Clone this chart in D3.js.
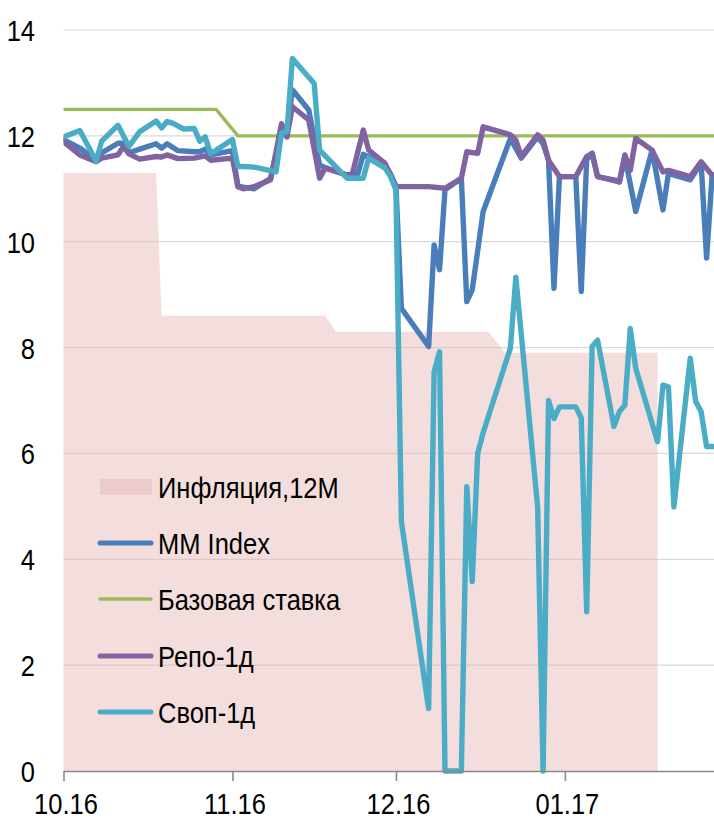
<!DOCTYPE html>
<html><head><meta charset="utf-8">
<script src="https://cdn.jsdelivr.net/npm/d3@7"></script>
<style>
body{margin:0;background:#fff;}
svg{display:block;font-family:"Liberation Sans Narrow","Arial Narrow","Liberation Sans",Arial,sans-serif;}
</style></head><body>
<svg id="chart" width="714" height="821"></svg>
<script>
// ---- data ----
const xTickDates = ["2016-10-01","2016-11-01","2016-12-01","2017-01-01"];
const xTickLabels = ["10.16","11.16","12.16","01.17"];
const yTicks = [0,2,4,6,8,10,12,14];

const inflationDates = ["2016-10-01","2016-10-18","2016-10-19","2016-11-18","2016-11-20","2016-12-18","2016-12-21","2017-01-18"];
const inflationValues = [11.3,11.3,8.6,8.6,8.3,8.3,7.9,7.9];

const keyRate = [["2016-10-01",12.5],["2016-10-29",12.5],["2016-11-02",12.0],["2017-01-29",12.0]];

const mmIndex = [["2016-10-01",11.93],["2016-10-04",11.77],["2016-10-07",11.54],["2016-10-08",11.68],["2016-10-11",11.86],["2016-10-12",11.86],["2016-10-13",11.68],["2016-10-15",11.75],["2016-10-18",11.85],["2016-10-19",11.77],["2016-10-20",11.85],["2016-10-22",11.72],["2016-10-25",11.70],["2016-10-26",11.70],["2016-10-27",11.75],["2016-10-28",11.64],["2016-11-01",11.72],["2016-11-02",11.05],["2016-11-03",11.03],["2016-11-05",11.00],["2016-11-08",11.20],["2016-11-10",12.10],["2016-11-11",12.06],["2016-11-12",12.87],["2016-11-15",12.49],["2016-11-17",11.45],["2016-11-18",11.40],["2016-11-22",11.26],["2016-11-24",11.28],["2016-11-25",11.65],["2016-11-26",11.60],["2016-11-29",11.45],["2016-11-30",11.28],["2016-12-01",11.05],["2016-12-02",8.74],["2016-12-07",8.02],["2016-12-08",9.94],["2016-12-09",9.47],["2016-12-10",10.98],["2016-12-13",11.20],["2016-12-14",8.87],["2016-12-15",9.09],["2016-12-17",10.57],["2016-12-22",11.95],["2016-12-24",11.58],["2016-12-27",11.98],["2016-12-28",11.85],["2016-12-29",11.54],["2016-12-30",9.12],["2016-12-31",11.23],["2017-01-03",11.23],["2017-01-04",9.06],["2017-01-05",11.55],["2017-01-06",11.67],["2017-01-07",11.23],["2017-01-11",11.13],["2017-01-12",11.61],["2017-01-14",10.57],["2017-01-17",11.73],["2017-01-19",10.60],["2017-01-20",11.29],["2017-01-24",11.17],["2017-01-26",11.48],["2017-01-27",9.69],["2017-01-28",11.23],["2017-01-29",11.23]];

const repo1d = [["2016-10-01",11.89],["2016-10-04",11.64],["2016-10-07",11.51],["2016-10-08",11.58],["2016-10-11",11.64],["2016-10-12",11.80],["2016-10-13",11.66],["2016-10-15",11.56],["2016-10-18",11.61],["2016-10-19",11.60],["2016-10-20",11.64],["2016-10-22",11.57],["2016-10-25",11.58],["2016-10-27",11.62],["2016-10-28",11.54],["2016-11-01",11.58],["2016-11-02",11.04],["2016-11-03",11.00],["2016-11-05",11.04],["2016-11-08",11.17],["2016-11-10",12.23],["2016-11-11",11.98],["2016-11-12",12.55],["2016-11-15",12.30],["2016-11-17",11.20],["2016-11-18",11.39],["2016-11-22",11.26],["2016-11-23",11.28],["2016-11-25",12.11],["2016-11-26",11.73],["2016-11-29",11.48],["2016-12-01",11.04],["2016-12-02",11.04],["2016-12-07",11.04],["2016-12-10",11.01],["2016-12-13",11.20],["2016-12-14",11.70],["2016-12-16",11.67],["2016-12-17",12.17],["2016-12-22",12.02],["2016-12-23",11.92],["2016-12-24",11.61],["2016-12-27",12.02],["2016-12-28",11.92],["2016-12-29",11.54],["2016-12-31",11.23],["2017-01-03",11.23],["2017-01-05",11.61],["2017-01-06",11.67],["2017-01-07",11.23],["2017-01-10",11.17],["2017-01-11",11.13],["2017-01-12",11.64],["2017-01-13",11.35],["2017-01-14",11.95],["2017-01-17",11.73],["2017-01-19",11.32],["2017-01-20",11.35],["2017-01-24",11.23],["2017-01-26",11.51],["2017-01-28",11.26],["2017-01-29",11.26]];

const swap1d = [["2016-10-01",11.98],["2016-10-04",12.10],["2016-10-07",11.52],["2016-10-08",11.90],["2016-10-11",12.20],["2016-10-13",11.80],["2016-10-15",12.08],["2016-10-18",12.28],["2016-10-19",12.15],["2016-10-20",12.27],["2016-10-21",12.24],["2016-10-23",12.13],["2016-10-25",12.14],["2016-10-26",11.90],["2016-10-27",11.98],["2016-10-28",11.66],["2016-11-01",11.93],["2016-11-02",11.42],["2016-11-03",11.42],["2016-11-05",11.41],["2016-11-09",11.32],["2016-11-10",12.05],["2016-11-11",12.08],["2016-11-12",13.46],["2016-11-16",12.99],["2016-11-17",11.73],["2016-11-22",11.20],["2016-11-25",11.20],["2016-11-26",11.58],["2016-11-29",11.39],["2016-11-30",11.23],["2016-12-01",10.98],["2016-12-02",4.71],["2016-12-07",1.18],["2016-12-08",7.54],["2016-12-09",7.92],["2016-12-10",0],["2016-12-13",0],["2016-12-14",5.37],["2016-12-15",3.58],["2016-12-16",6.00],["2016-12-17",6.39],["2016-12-22",7.99],["2016-12-23",9.33],["2016-12-27",4.99],["2016-12-28",0],["2016-12-29",7.00],["2016-12-30",6.66],["2016-12-31",6.88],["2017-01-03",6.88],["2017-01-04",6.67],["2017-01-05",3.01],["2017-01-06",8.02],["2017-01-07",8.14],["2017-01-10",6.51],["2017-01-11",6.79],["2017-01-12",6.91],["2017-01-13",8.36],["2017-01-14",7.61],["2017-01-18",6.22],["2017-01-19",7.29],["2017-01-20",7.26],["2017-01-21",4.99],["2017-01-24",7.80],["2017-01-25",6.98],["2017-01-26",6.79],["2017-01-27",6.13],["2017-01-29",6.13]];

const legendLabels = ["Инфляция,12М","MM Index","Базовая ставка","Репо-1д","Своп-1д"];
const seriesColors = {infl:"rgb(228,182,180)", mm:"#4a7ebb", key:"#9bbb59", repo:"#8064a2", swap:"#4bacc6"};

// ---- chart ----
const SX = 0.85; // horizontal condensing to mimic a narrow typeface
const parse = d3.utcParse("%Y-%m-%d");
const svg = d3.select("#chart");
const W = 714, H = 821;
const x = d3.scaleUtc()
  .domain([parse("2016-10-01"), new Date(Date.UTC(2017,0,28,8,40))])
  .range([63.5, 714]);
const y = d3.scaleLinear().domain([0,14]).range([771,30]);

// gridlines
svg.append("g").selectAll("line").data(yTicks.filter(v=>v>0)).join("line")
  .attr("x1",63.5).attr("x2",W).attr("y1",d=>y(d)).attr("y2",d=>y(d))
  .attr("stroke","#d9d9d9").attr("stroke-width",1.2);

// inflation area
const inflData = inflationDates.map((d,i)=>[parse(d),inflationValues[i]]);
svg.append("path").datum(inflData)
  .attr("d", d3.area().x(d=>x(d[0])).y0(y(0)).y1(d=>y(d[1])))
  .attr("fill",seriesColors.infl).attr("fill-opacity",0.45);

// clip
svg.append("clipPath").attr("id","clip").append("rect")
  .attr("x",63.5).attr("y",0).attr("width",W-63.5).attr("height",H);

const line = d3.line().x(d=>x(parse(d[0]))).y(d=>y(d[1]));
const g = svg.append("g").attr("clip-path","url(#clip)");
[[keyRate,seriesColors.key,3.4],[mmIndex,seriesColors.mm,5.4],[repo1d,seriesColors.repo,5.4],[swap1d,seriesColors.swap,5.4]]
 .forEach(([data,col,w])=>{
   g.append("path").datum(data).attr("d",line)
    .attr("fill","none").attr("stroke",col).attr("stroke-width",w)
    .attr("stroke-linejoin","round").attr("stroke-linecap","round");
 });

// x axis
const xAxis = d3.axisBottom(x)
  .tickValues(xTickDates.map(parse))
  .tickFormat((d,i)=>xTickLabels[i])
  .tickSize(10).tickSizeOuter(0);
const xg = svg.append("g").attr("transform","translate(0,771)").call(xAxis);
xg.select(".domain").attr("stroke","#898989").attr("stroke-width",1.6);
xg.selectAll(".tick line").attr("stroke","#898989").attr("stroke-width",1.6);
xg.selectAll(".tick text").attr("x",0).attr("y",0).attr("dy",null)
  .attr("transform",`translate(2,43) scale(${SX},1)`).attr("fill","#000")
  .style("font-size","30px").style("font-family","inherit");

// y axis labels
const yAxis = d3.axisLeft(y).tickValues(yTicks).tickSize(0).tickPadding(0);
const yg = svg.append("g").attr("transform","translate(35,0)").call(yAxis);
yg.select(".domain").remove();
yg.selectAll(".tick text").attr("fill","#000").attr("x",0).attr("y",0).attr("dy",null)
  .attr("transform",`translate(0,10.5) scale(${SX},1)`)
  .style("font-size","30px").style("font-family","inherit");

// legend
const legY = [487,543,599,656,712];
const leg = svg.append("g");
leg.append("rect").attr("x",100).attr("y",legY[0]-8).attr("width",52).attr("height",16)
  .attr("fill",seriesColors.infl).attr("fill-opacity",0.45);
const legLines = [[seriesColors.mm,5],[seriesColors.key,3.5],[seriesColors.repo,5],[seriesColors.swap,5]];
legLines.forEach(([c,w],i)=>{
  leg.append("line").attr("x1",100).attr("x2",151).attr("y1",legY[i+1]).attr("y2",legY[i+1])
    .attr("stroke",c).attr("stroke-width",w).attr("stroke-linecap","round");
});
legendLabels.forEach((t,i)=>{
  leg.append("text").attr("transform",`translate(158,${legY[i]+11}) scale(${SX},1)`).text(t)
    .style("font-size","30px").attr("fill","#000");
});
</script>
</body></html>
